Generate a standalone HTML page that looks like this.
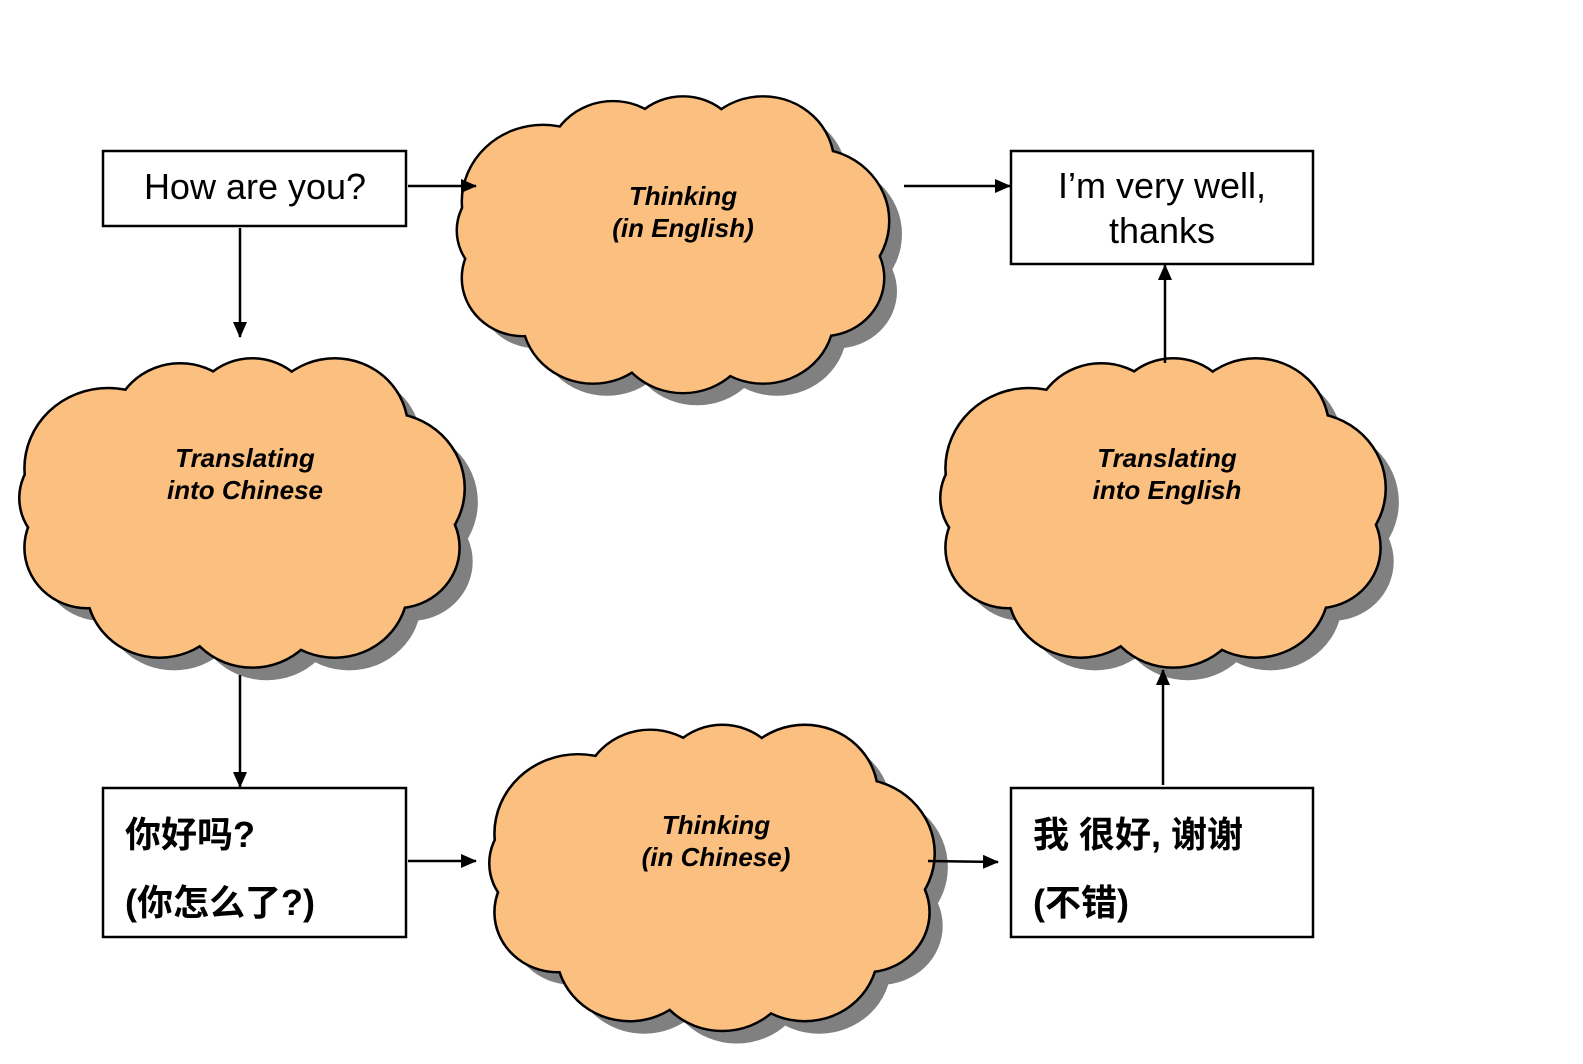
<!DOCTYPE html>
<html><head><meta charset="utf-8"><style>
body{margin:0;background:#fff}
svg{display:block}
.t{font-family:"Liberation Sans",Arial,sans-serif}
.c{font-family:"Liberation Sans","Noto Sans CJK SC",sans-serif;font-weight:bold}
</style></head><body>
<svg width="1583" height="1064" viewBox="0 0 1583 1064" xmlns="http://www.w3.org/2000/svg">
<defs>
<g id="cl">
<circle cx="-130" cy="-40" r="80"/><circle cx="-60" cy="-80" r="65"/><circle cx="10" cy="-90" r="60"/><circle cx="90" cy="-80" r="70"/><circle cx="140" cy="-20" r="75"/><circle cx="150" cy="40" r="60"/><circle cx="90" cy="80" r="70"/><circle cx="10" cy="90" r="70"/><circle cx="-80" cy="80" r="70"/><circle cx="-150" cy="40" r="60"/><circle cx="-160" cy="-10" r="55"/><circle cx="0" cy="0" r="110"/>
</g>
<marker id="a" markerWidth="16" markerHeight="14" refX="15" refY="7" orient="auto" markerUnits="userSpaceOnUse"><path d="M0,0L16,7L0,14z" fill="#000"/></marker>
</defs>
<g id="clouds">
<g transform="translate(673,240) scale(1,0.95)">
<use href="#cl" transform="translate(14,14)" fill="#808080"/>
<use href="#cl" fill="#fbbf80" stroke="#000" stroke-width="5"/><use href="#cl" fill="#fbbf80"/></g>
<g transform="translate(242,508) scale(1.03,0.99)">
<use href="#cl" transform="translate(14,14)" fill="#808080"/>
<use href="#cl" fill="#fbbf80" stroke="#000" stroke-width="5"/><use href="#cl" fill="#fbbf80"/></g>
<g transform="translate(1163,508) scale(1.03,0.99)">
<use href="#cl" transform="translate(14,14)" fill="#808080"/>
<use href="#cl" fill="#fbbf80" stroke="#000" stroke-width="5"/><use href="#cl" fill="#fbbf80"/></g>
<g transform="translate(712,873) scale(1.03,0.98)">
<use href="#cl" transform="translate(14,14)" fill="#808080"/>
<use href="#cl" fill="#fbbf80" stroke="#000" stroke-width="5"/><use href="#cl" fill="#fbbf80"/></g>
</g>
<g class="t" font-weight="bold" font-style="italic" font-size="26" text-anchor="middle">
<text x="683" y="205">Thinking</text><text x="683" y="237">(in English)</text>
<text x="245" y="467">Translating</text><text x="245" y="499">into Chinese</text>
<text x="1167" y="467">Translating</text><text x="1167" y="499">into English</text>
<text x="716" y="834">Thinking</text><text x="716" y="866">(in Chinese)</text>
</g>
<g fill="#fff" stroke="#000" stroke-width="2.5">
<rect x="103" y="151" width="303" height="75"/>
<rect x="1011" y="151" width="302" height="113"/>
<rect x="103" y="788" width="303" height="149"/>
<rect x="1011" y="788" width="302" height="149"/>
</g>
<g class="t" font-size="36" text-anchor="middle">
<text x="255" y="199">How are you?</text>
<text x="1162" y="198">I’m very well,</text>
<text x="1162" y="243">thanks</text>
</g>
<g class="c" font-size="36">
<text x="125" y="847">你好吗?</text>
<text x="125" y="915">(你怎么了?)</text>
<text x="1033" y="847">我 很好, 谢谢</text>
<text x="1033" y="915">(不错)</text>
</g>
<g stroke="#000" stroke-width="2.5" marker-end="url(#a)">
<line x1="408" y1="186" x2="476" y2="186"/>
<line x1="904" y1="186" x2="1010" y2="186"/>
<line x1="240" y1="228" x2="240" y2="337"/>
<line x1="240" y1="675" x2="240" y2="787"/>
<line x1="408" y1="861" x2="476" y2="861"/>
<line x1="928" y1="861" x2="998" y2="862"/>
<line x1="1163" y1="785" x2="1163" y2="670"/>
<line x1="1165" y1="363" x2="1165" y2="265"/>
</g>
</svg>
</body></html>
